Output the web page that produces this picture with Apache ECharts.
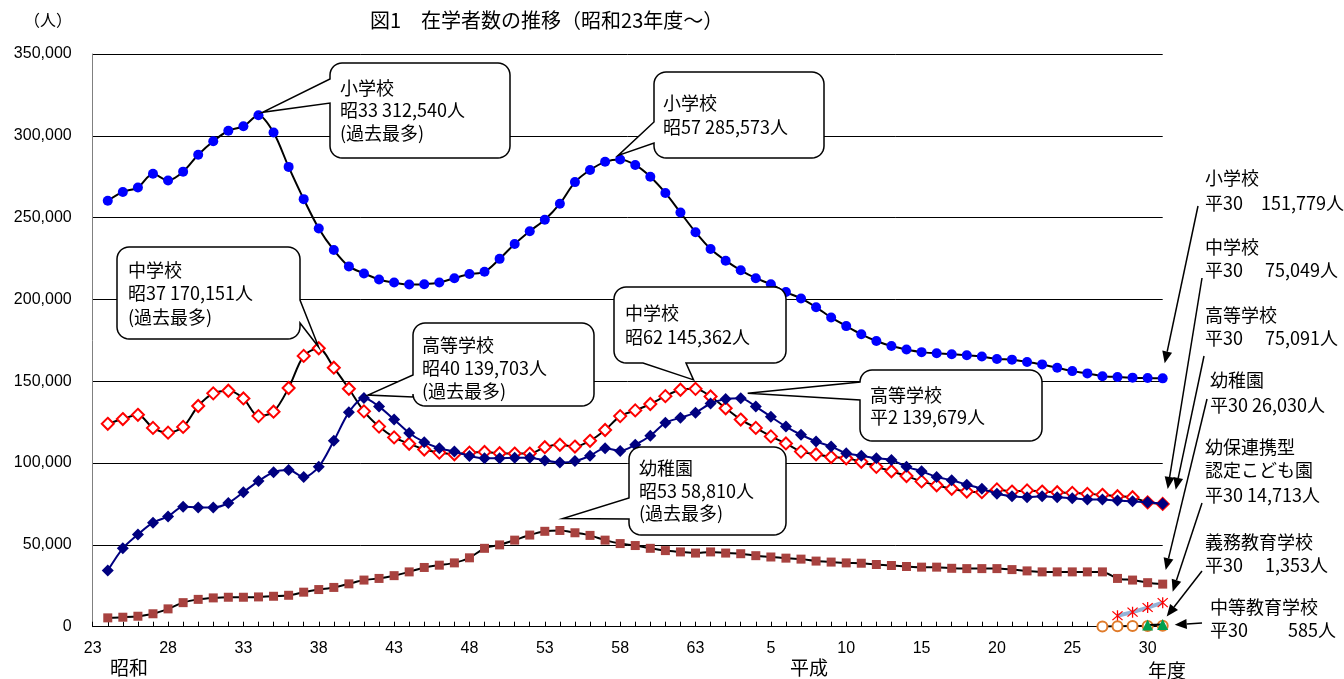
<!DOCTYPE html>
<html><head><meta charset="utf-8">
<script src="https://cdn.jsdelivr.net/npm/echarts@6/dist/echarts.min.js"></script>
<style>html,body{margin:0;padding:0;background:#fff}#c{width:1344px;height:679px}</style>
</head><body><div id="c"></div>
<script>
// x-axis tick labels (every 5th tick)
const tickLabels = ['23','28','33','38','43','48','53','58','63','5','10','15','20','25','30'];
// Data: 昭和23年度 ... 平成30年度 (71 years)
const elementary = [260300,265700,268400,276800,272700,278100,288400,296700,303100,305800,312540,302000,281000,261300,243400,230200,220200,215900,212200,210300,209100,209300,210300,213000,215500,216900,224800,233900,241700,248700,258500,271700,279100,284100,285573,282200,275000,265100,253100,241100,230800,223700,217800,213000,209300,204500,200600,195200,189000,183700,178700,174600,171500,169400,167800,167100,166500,165900,165100,163600,163200,161800,160300,158300,156200,154800,153100,152600,152200,152000,151779];
const juniorHigh = [124000,126900,129500,121500,118600,122100,134900,142600,144200,139500,128700,131400,145900,165500,170151,158300,145400,131600,122300,115700,111800,108300,106400,105400,106400,106800,106000,105800,105800,109700,111200,110100,113600,120200,128700,132200,136100,140900,144800,145362,140700,133500,126600,121500,116300,112000,107000,105400,103700,102900,100800,97700,95000,92100,88800,86400,84300,82600,82200,83900,82600,83300,82600,82200,81800,81200,80600,79700,79100,76000,75049];
const highSchool = [34300,47900,56400,63600,67400,73300,72900,72900,75600,82200,89000,94400,95700,91500,97700,113600,131000,139703,134500,126600,118400,112800,109100,107000,104300,102900,102900,103300,103300,101600,100400,101200,104500,109100,107400,111200,116700,124600,127700,130800,136400,139200,139679,134500,128300,122300,117300,113200,110100,106000,104500,102900,101900,97700,95000,91500,89500,86800,84300,81200,79700,79100,79700,79100,78500,77700,77700,77100,76600,76000,75091];
const kindergarten = [5400,5800,6400,7900,10900,14700,16700,17600,18000,18000,18200,18600,19200,21100,22700,24000,26200,28500,29500,31200,33500,36200,37600,39000,42100,47900,50000,52900,56000,58300,58810,57400,55800,52900,50800,49600,47900,46500,45700,45000,45700,45000,44600,43400,42600,41900,41300,40100,39500,39000,38800,38000,37400,36800,36400,36400,35700,35500,35500,35500,34900,34100,33500,33500,33500,33500,33500,29500,28500,26900,26030];
const kodomoen = [6700,8900,11700,14713];      // 平27-平30
const chuto = [100,260,390,470,585];            // 平26-平30
const gimu = [1040,1353];                       // 平29-平30

const N = 72;
const cats = Array.from({length:N}, (_, i) => String(i));
const pad = (vals, start) => { const a = new Array(N).fill(null); vals.forEach((v,i)=>{a[start+i]=v;}); return a; };
const JP = '"Noto Sans CJK JP"';
const asterisk = 'path://M9,0L11,0L11,20L9,20Z M1.3,2.7L2.7,1.3L18.7,17.3L17.3,18.7Z M17.3,1.3L18.7,2.7L2.7,18.7L1.3,17.3Z';

const chart = echarts.init(document.getElementById('c'));
const option = {
  animation: false,
  backgroundColor: '#fff',
  grid: {left: 92.7, right: 181.3, top: 54, bottom: 52.3, containLabel: false},
  xAxis: {
    type: 'category', data: cats, boundaryGap: false,
    axisLine: {lineStyle: {color: '#000', width: 1}},
    axisTick: {show: true, inside: true, length: 5, interval: 0, lineStyle: {color: '#000'}},
    axisLabel: {interval: 4, margin: 14, fontSize: 16, fontFamily: 'Liberation Sans', color: '#000',
      formatter: (v, idx) => tickLabels[Math.round(idx/5)] || ''},
    splitLine: {show: false}
  },
  yAxis: {
    type: 'value', min: 0, max: 350000, interval: 50000,
    axisLine: {show: true, lineStyle: {color: '#808080', width: 1}},
    axisTick: {show: false},
    axisLabel: {margin: 21, fontSize: 16, fontFamily: 'Liberation Sans', color: '#000',
      formatter: v => v.toLocaleString('en-US')},
    splitLine: {show: true, lineStyle: {color: '#000', width: 1}}
  },
  series: [
    {name:'小学校', type:'line', data: pad(elementary,1), smooth:0.3, showAllSymbol:true,
     symbol:'circle', symbolSize:10, itemStyle:{color:'#0000FF'}, lineStyle:{color:'#000', width:2}, z:3},
    {name:'中学校', type:'line', data: pad(juniorHigh,1), smooth:0.3, showAllSymbol:true,
     symbol:'diamond', symbolSize:12, itemStyle:{color:'#fff', borderColor:'#FF0000', borderWidth:2}, lineStyle:{color:'#000', width:2}, z:3},
    {name:'高等学校', type:'line', data: pad(highSchool,1), smooth:0.3, showAllSymbol:true,
     symbol:'diamond', symbolSize:12, itemStyle:{color:'#000080'}, lineStyle:{color:'#000080', width:2}, z:4},
    {name:'幼稚園', type:'line', data: pad(kindergarten,1), smooth:0.3, showAllSymbol:true,
     symbol:'rect', symbolSize:9, itemStyle:{color:'#A8423F'}, lineStyle:{color:'#000', width:2}, z:3},
    {name:'幼保連携型認定こども園', type:'line', data: pad(kodomoen,68), showAllSymbol:true,
     symbol: asterisk, symbolSize:11, itemStyle:{color:'#FF0000'}, lineStyle:{color:'#95B3D7', width:4}, z:5},
    {name:'中等教育学校', type:'line', data: pad(chuto,67), showAllSymbol:true,
     symbol:'circle', symbolSize:10, itemStyle:{color:'#fff', borderColor:'#E07B2A', borderWidth:2}, lineStyle:{color:'#000', width:2}, z:5},
    {name:'義務教育学校', type:'line', data: pad(gimu,70), showAllSymbol:true,
     symbol:'triangle', symbolSize:11, itemStyle:{color:'#00A050'}, lineStyle:{color:'#000', width:2}, z:6}
  ]
};
chart.setOption(option);

const px = (k, v) => chart.convertToPixel({xAxisIndex:0, yAxisIndex:0}, [k, v]);

function arc(pts, cx, cy, r, a0, a1) {
  const n = 8;
  for (let i = 0; i <= n; i++) {
    const a = a0 + (a1 - a0) * i / n;
    pts.push([cx + r * Math.cos(a), cy + r * Math.sin(a)]);
  }
}
function calloutPoints(b, side, base, tip) {
  const [x0,y0,x1,y1] = b, r = 12, P = Math.PI;
  const pts = [];
  arc(pts, x1-r, y0+r, r, -P/2, 0);
  if (side === 'right') { pts.push([x1,base[0]], tip, [x1,base[1]]); }
  arc(pts, x1-r, y1-r, r, 0, P/2);
  if (side === 'bottom') { pts.push([base[1],y1], tip, [base[0],y1]); }
  arc(pts, x0+r, y1-r, r, P/2, P);
  if (side === 'left') { pts.push([x0,base[1]], tip, [x0,base[0]]); }
  arc(pts, x0+r, y0+r, r, P, 1.5*P);
  return pts;
}
function txt(x, y, text, size) {
  return {type:'text', x, y, z:110, style:{text, font: `${size||18}px ${JP}`, fill:'#000',
    align:'left', verticalAlign:'middle', textAlign:'left', textVerticalAlign:'middle'}};
}

const callouts = [
  {box:[330,63,510,158], side:'left', base:[79,103], k:11, v:elementary[10], off:[4,-3], tx:340, ty:[88,110,133], lines:['小学校','昭33 312,540人','(過去最多)']},
  {box:[654,72,824,158], side:'left', base:[122,143], k:35, v:elementary[34], off:[-2,-4], tx:663, ty:[103,127], lines:['小学校','昭57 285,573人']},
  {box:[117,247,300,339], side:'right', base:[300,323], k:15, v:juniorHigh[14], off:[0,-1], tx:128, ty:[270,293,317], lines:['中学校','昭37 170,151人','(過去最多)']},
  {box:[413,323,594,406], side:'left', base:[375,397], k:18, v:highSchool[17], off:[4,-3], tx:422, ty:[345,368,391], lines:['高等学校','昭40 139,703人','(過去最多)']},
  {box:[614,287,786,363], side:'bottom', base:[643,686], k:40, v:juniorHigh[39], off:[-2,-9], tx:625, ty:[313,337], lines:['中学校','昭62 145,362人']},
  {box:[860,370,1042,441], side:'left', base:[382,400], k:43, v:highSchool[42], off:[7,-5], tx:870, ty:[395,417], lines:['高等学校','平2 139,679人']},
  {box:[629,447,786,535], side:'left', base:[498,519], k:31, v:kindergarten[30], off:[3,-12], tx:639, ty:[468,491,513], lines:['幼稚園','昭53 58,810人','(過去最多)']}
];

const g = [];
callouts.forEach(c => {
  const p = px(c.k, c.v);
  const tip = [p[0]+c.off[0], p[1]+c.off[1]];
  g.push({type:'polygon', z:100, shape:{points: calloutPoints(c.box, c.side, c.base, tip)},
    style:{fill:'#fff', stroke:'#000', lineWidth:1.5, lineJoin:'miter'}});
  c.lines.forEach((t,i) => g.push(txt(c.tx, c.ty[i], t, 18)));
});

// right side labels
const rightTexts = [
  [1205,178,'小学校'],[1205,203,'平30　151,779人'],
  [1205,247,'中学校'],[1205,270,'平30　 75,049人'],
  [1205,315,'高等学校'],[1205,338,'平30　 75,091人'],
  [1210,380,'幼稚園'],[1210,405,'平30 26,030人'],
  [1205,447,'幼保連携型'],[1205,470,'認定こども園'],[1205,495,'平30 14,713人'],
  [1205,542,'義務教育学校'],[1205,565,'平30　 1,353人'],
  [1210,607,'中等教育学校'],[1210,630,'平30　　 585人']
];
rightTexts.forEach(t => g.push(txt(t[0], t[1], t[2], 18)));

// arrows
const arrows = [
  {from:[1198,206], k:71, v:elementary[70], off:[2,-15]},
  {from:[1202,278], k:71, v:juniorHigh[70], off:[5,-15]},
  {from:[1204,356], k:71, v:highSchool[70], off:[13,-14]},
  {from:[1207,399], k:71, v:kindergarten[70], off:[3,-14]},
  {from:[1202,503], k:71, v:kodomoen[3], off:[10,-11]},
  {from:[1202,571], k:71, v:gimu[1], off:[4,-8]},
  {from:[1202,623], k:71, v:chuto[4], off:[12,-1]}
];
arrows.forEach(a => {
  const p = px(a.k, a.v);
  const tip = [p[0]+a.off[0], p[1]+a.off[1]];
  const dx = tip[0]-a.from[0], dy = tip[1]-a.from[1];
  const len = Math.hypot(dx, dy), ux = dx/len, uy = dy/len;
  const L = 12, W = 5;
  const bx = tip[0]-ux*L, by = tip[1]-uy*L;
  g.push({type:'line', z:105, shape:{x1:a.from[0], y1:a.from[1], x2:bx, y2:by}, style:{stroke:'#000', lineWidth:1.5}});
  g.push({type:'polygon', z:105, shape:{points:[[tip[0],tip[1]],[bx-uy*W,by+ux*W],[bx+uy*W,by-ux*W]]}, style:{fill:'#000'}});
});

// titles and axis captions
g.push(txt(370, 20, '図1　在学者数の推移（昭和23年度～）', 20));
g.push(txt(24, 20, '（人）', 16));
g.push(txt(110, 668, '昭和', 19));
g.push(txt(790, 668, '平成', 19));
g.push(txt(1148, 671, '年度', 19));

chart.setOption({graphic: {elements: g}});
</script>
</body></html>
